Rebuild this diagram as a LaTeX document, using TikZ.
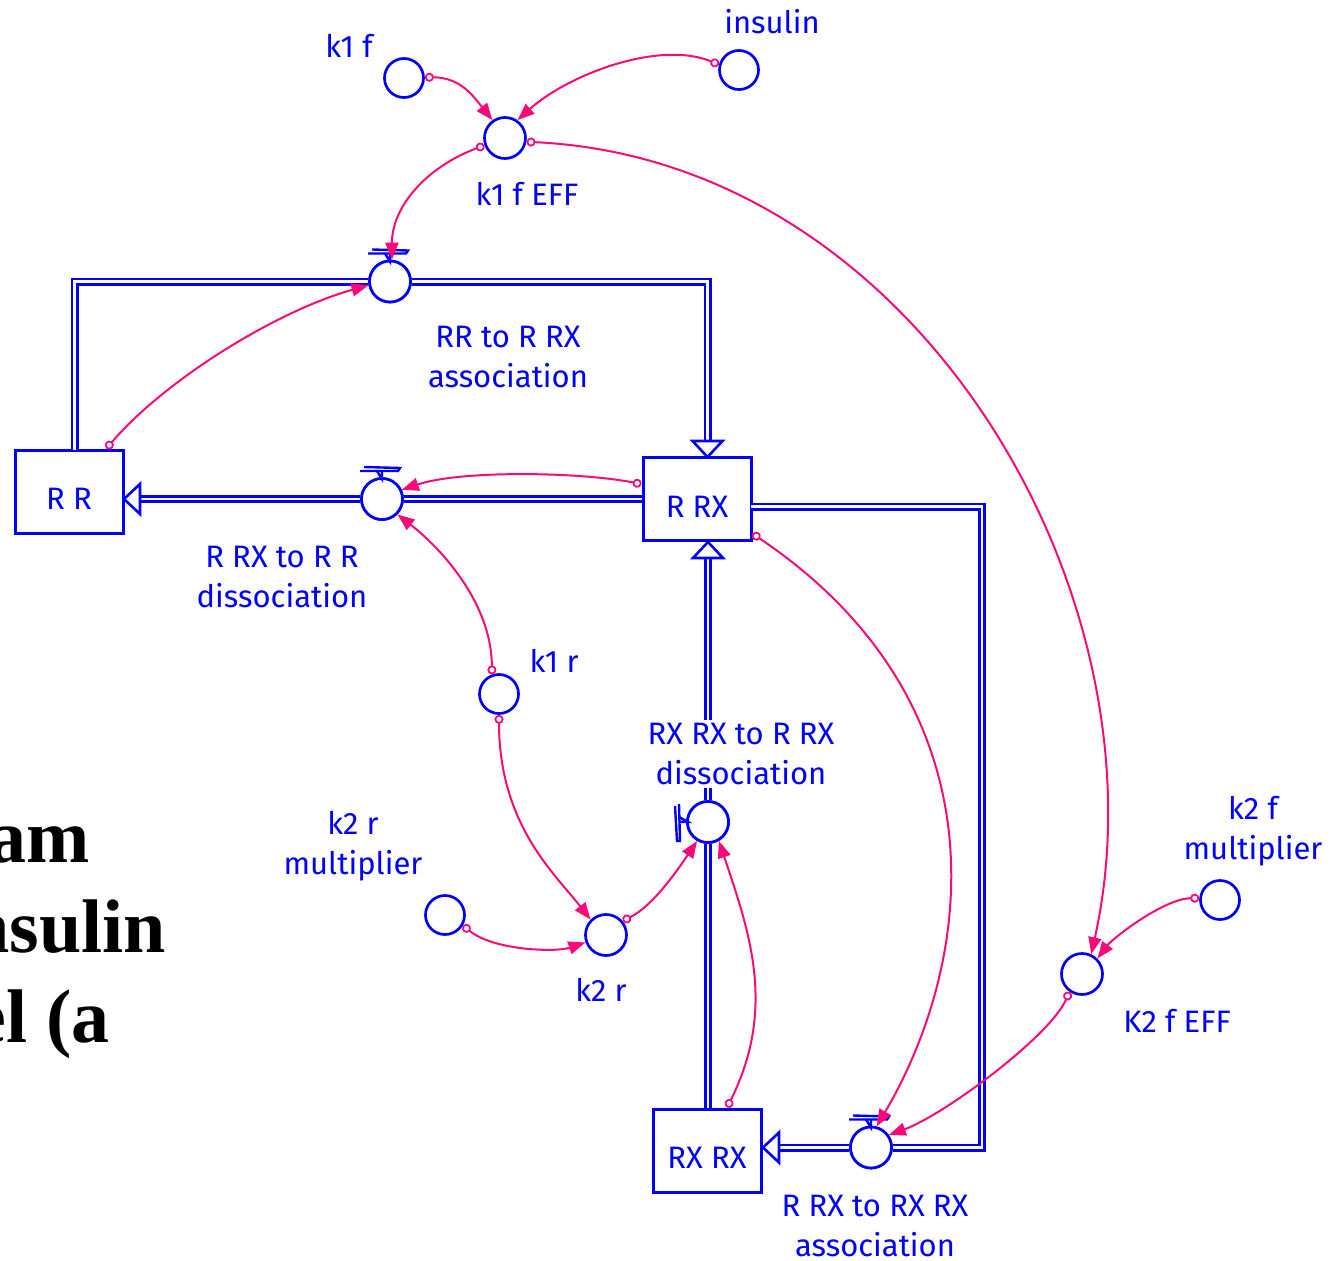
\documentclass[tikz,border=0pt]{standalone}
\usepackage{fontspec}
\setmainfont{Fira Sans}
\newfontfamily\bigserif{Liberation Serif}
\usetikzlibrary{arrows.meta}
\definecolor{vblue}{RGB}{0,0,255}
\definecolor{vpink}{RGB}{250,10,120}
\newcommand{\stocktext}[1]{\raisebox{-18pt}[0pt][0pt]{#1}}
\begin{document}
\begin{tikzpicture}[x=1pt,y=-1pt,
  lbl/.style={text=vblue, font=\fontsize{31}{40}\selectfont, align=center, inner sep=0},
  stock/.style={draw=vblue, line width=3pt, minimum width=108pt, minimum height=83pt, inner sep=0, text=vblue, font=\fontsize{31}{40}\selectfont},
  aux/.style={draw=vblue, circle, line width=2.7pt, minimum size=39pt, inner sep=0, fill=white},
  valve/.style={aux, minimum size=41pt},
  flowline/.style={draw=vblue, line width=2.7pt, double=white, double distance=2.6pt},
  flowhead/.style={draw=vblue, line width=2.6pt, fill=white, line join=miter},
  handle/.style={draw=vblue, line width=2.4pt},
  conn/.style={draw=vpink, line width=2pt, {Circle[open,length=9pt,width=9pt,line width=1.8pt]}-{Triangle[length=17pt,width=13pt]}},
  bigtext/.style={font=\bigserif\bfseries\fontsize{76}{90}\selectfont, anchor=base east, inner sep=0},
  hhandle/.pic={
    \draw[handle] (-18,-32) -- (18,-31) -- (16,-28) -- (-22,-28);
    \draw[handle] (-5,-28) -- (0,-20) -- (0,-28);
  },
  vhandle/.pic={
    \draw[handle] (-33,-16) -- (-31,19) -- (-28,19) -- (-29,-18);
    \draw[handle] (-29,-5) -- (-20,0) -- (-29,0);
  }
]
\useasboundingbox (0,0) rectangle (1336,1261);

% big serif text (partly cut by the picture's edge)
\node[bigtext] (t1) at (90,862) {am};
\node[bigtext] (t2) at (166,952) {nsulin};
\node[bigtext] (t3) at (110,1042) {el (a};

% stocks
\node[stock] (RR) at (69,491.5) {\stocktext{R R}};
\node[stock] (RRX) at (697,499) {\stocktext{R RX}};
\node[stock] (RXRX) at (707,1150.5) {\stocktext{RX RX}};

% flow pipes
\coordinate (f1a) at (74.5,450);
\coordinate (f1b) at (707.5,441);
\coordinate (f2b) at (140,499);
\coordinate (f3b) at (708,558);
\coordinate (f4a) at (751,506.5);
\coordinate (f4c) at (982,1147.5);
\coordinate (f4b) at (779,1147.5);

\node[valve] (V1) at (390,281.5) {};
\node[valve] (V2) at (382,499) {};
\node[valve] (V3) at (708,822) {};
\node[valve] (V4) at (871,1147.5) {};

\draw[flowline] (f1a) |- (V1.west);
\draw[flowline] (V1.east) -| (f1b);
\draw[flowhead] (692.5,441) -- (722.5,441) -- (707.5,457) -- cycle;

\draw[flowline] (RRX.west |- V2) -- (V2.east);
\draw[flowline] (V2.west) -- (f2b);
\draw[flowhead] (140,484) -- (140,514) -- (124,499) -- cycle;

\draw[flowline] (V3 |- RXRX.north) -- (V3.south);
\draw[flowline] (V3.north) -- (f3b);
\draw[flowhead] (693,558) -- (723,558) -- (708,542) -- cycle;

\draw[flowline] (f4a) -| (f4c) -- (V4.east);
\draw[flowline] (V4.west) -- (f4b);
\draw[flowhead] (779,1132.5) -- (779,1162.5) -- (763,1147.5) -- cycle;

% redraw valves on top
\node[valve] at (V1) {};
\node[valve] at (V2) {};
\node[valve] at (V3) {};
\node[valve] at (V4) {};
\pic at (V1) {hhandle};
\pic at (V2) {hhandle};
\pic at (V3) {vhandle};
\pic at (V4) {hhandle};

% auxiliaries
\node[aux] (k1f) at (404,78) {};
\node[aux] (ins) at (739,70) {};
\node[aux, minimum size=41pt] (k1fEFF) at (505,138) {};
\node[aux] (k1r) at (499,694) {};
\node[aux] (k2rm) at (445,915) {};
\node[aux, minimum size=41pt] (k2r) at (606,935) {};
\node[aux] (k2fm) at (1220,900) {};
\node[aux, minimum size=41pt] (K2fEFF) at (1082,974) {};

% labels
\node[lbl] (lk1f) at (349,46) {k1 f};
\node[lbl] (lins) at (772,22) {insulin};
\node[lbl] (lk1fEFF) at (527,194) {k1 f EFF};
\node[lbl] (lV1) at (508,357) {RR to R RX\\association};
\node[lbl] (lV2) at (282,577) {R RX to R R\\dissociation};
\node[lbl] (lk1r) at (554,661) {k1 r};
\node[lbl, fill=white, inner sep=3pt] (lV3) at (741,754) {RX RX to R RX\\dissociation};
\node[lbl] (lk2rm) at (353,846) {k2 r\\multiplier};
\node[lbl] (lk2r) at (601,990) {k2 r};
\node[lbl] (lk2fm) at (1253,831) {k2 f\\multiplier};
\node[lbl] (lK2fEFF) at (1177,1021) {K2 f EFF};
\node[lbl] (lV4) at (875,1226) {R RX to RX RX\\association};

% connectors
\draw[conn] (k1f.2) .. controls +(35,0) and +(-20,-25) .. (k1fEFF.125);
\draw[conn] (ins.165) .. controls +(-60,-25) and +(50,-45) .. (k1fEFF.55);
\draw[conn] (k1fEFF.200) .. controls +(-55,20) and +(0,-55) .. (V1.85);
\draw[conn] (k1fEFF.-10) .. controls (920,160) and (1170,600) .. (K2fEFF.65);
\draw[conn] (RR.49) .. controls +(60,-70) and +(-90,25) .. (V1.190);
\draw[conn] (RRX.165) .. controls +(-60,-12) and +(60,-20) .. (V2.25);
\draw[conn] (k1r.110) .. controls +(0,-70) and +(45,35) .. (V2.-45);
\draw[conn] (k1r.-90) .. controls +(0,110) and +(-35,-45) .. (k2r.135);
\draw[conn] (k2rm.-30) .. controls +(30,25) and +(-30,10) .. (k2r.200);
\draw[conn] (k2r.40) .. controls +(30,-15) and +(-20,30) .. (V3.-120);
\draw[conn] (RXRX.65) .. controls +(50,-100) and +(30,90) .. (V3.-60);
\draw[conn] (RRX.-32) .. controls (1000,700) and (980,950) .. (V4.75);
\draw[conn] (K2fEFF.-125) .. controls +(-20,45) and +(55,-20) .. (V4.35);
\draw[conn] (k2fm.175) .. controls +(-35,0) and +(15,-20) .. (K2fEFF.45);
\end{tikzpicture}
\end{document}
